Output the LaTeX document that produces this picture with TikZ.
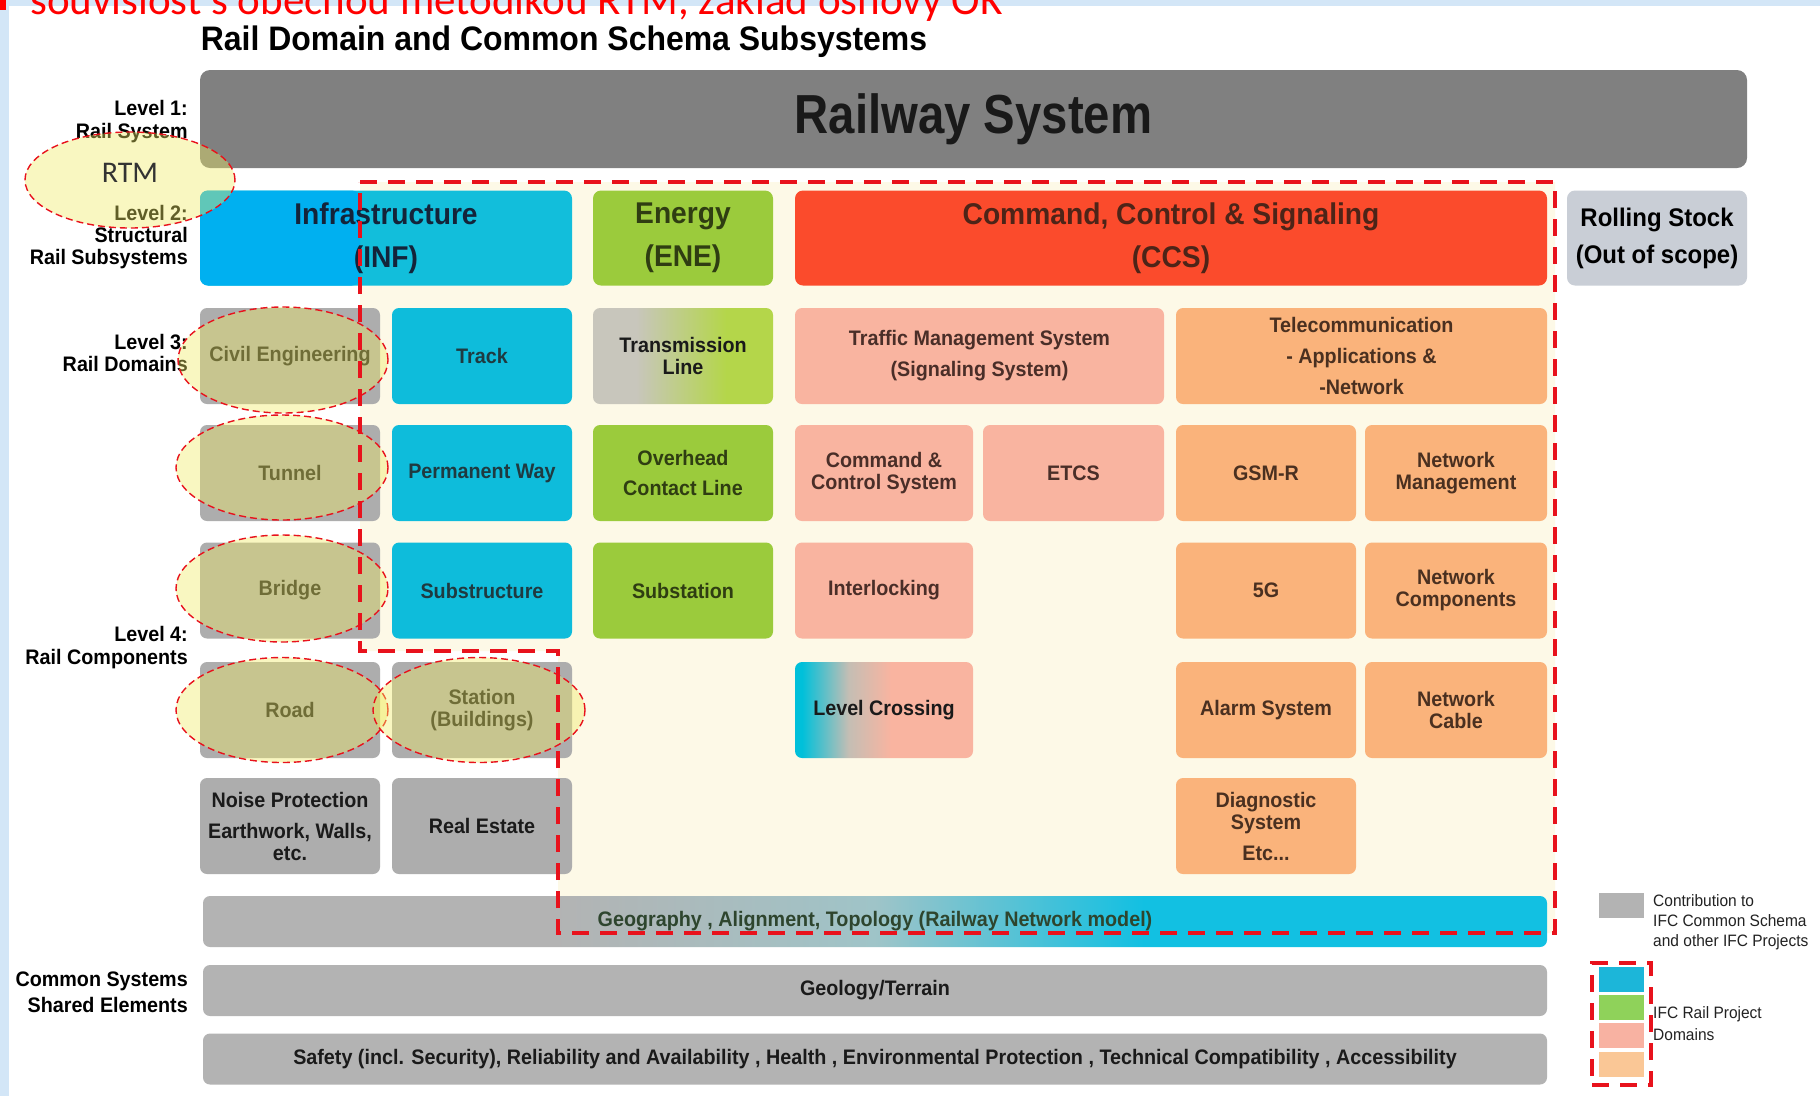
\documentclass[tikz,border=0pt]{standalone}
\usepackage{fontspec}
\setmainfont{Liberation Sans}
\newfontfamily\fcell[FakeStretch=0.94]{Liberation Sans}
\newfontfamily\fbig[FakeStretch=0.86]{Liberation Sans}
\newfontfamily\fcal{Carlito}
\usetikzlibrary{shapes.geometric}

\definecolor{stripblue}{HTML}{D3E6F7}
\definecolor{cream}{HTML}{FDF9E7}
\definecolor{railgray}{HTML}{808080}
\definecolor{infblue}{HTML}{00B0F0}
\definecolor{infcyan}{HTML}{12BEDB}
\definecolor{cyanin}{HTML}{0EBCDB}
\definecolor{green1}{HTML}{9BCB3C}
\definecolor{ccsred}{HTML}{FB4B2C}
\definecolor{salmon}{HTML}{F9B4A0}
\definecolor{orange1}{HTML}{FAB37B}
\definecolor{rsgray}{HTML}{C9CED6}
\definecolor{boxgray}{HTML}{ADADAD}
\definecolor{bargray}{HTML}{B3B3B3}
\definecolor{ellfill}{HTML}{F0EB64}
\definecolor{dashred}{HTML}{E8121C}
\definecolor{tgray}{HTML}{C8C6BC}
\definecolor{tgreen}{HTML}{B4D64A}
\definecolor{lccyan}{HTML}{00C0DA}
\definecolor{lcmid}{HTML}{C4BEB4}
\definecolor{geocyan}{HTML}{12C0E2}
\definecolor{geomid}{HTML}{9FC4C8}
\definecolor{legblue}{HTML}{1CB6D9}
\definecolor{leggreen}{HTML}{8FD25A}
\definecolor{legsal}{HTML}{F8B2A2}
\definecolor{legor}{HTML}{FAC796}
\definecolor{txtgray}{HTML}{1A1A1A}
\definecolor{txtcyan}{HTML}{1F3A40}
\definecolor{txtgreen}{HTML}{2F3D12}
\definecolor{txtsal}{HTML}{4A2E28}
\definecolor{txtor}{HTML}{4A3020}
\definecolor{txtinf}{HTML}{14243A}
\definecolor{txtccs}{HTML}{4D2418}
\definecolor{txtgeo}{HTML}{2E452E}
\definecolor{txtleg}{HTML}{222222}
\definecolor{txtrtm}{HTML}{333333}

\pgfdeclarehorizontalshading{transshade}{100bp}{color(0bp)=(tgray); color(37bp)=(tgray); color(62bp)=(tgreen); color(100bp)=(tgreen)}
\pgfdeclarehorizontalshading{lcshade}{100bp}{color(0bp)=(lccyan); color(27bp)=(lccyan); color(40bp)=(lcmid); color(52bp)=(salmon); color(100bp)=(salmon)}
\pgfdeclarehorizontalshading{geoshade}{100bp}{color(0bp)=(bargray); color(38bp)=(bargray); color(50bp)=(geomid); color(60bp)=(geocyan); color(100bp)=(geocyan)}

\newcommand{\cellfont}{\fcell\bfseries\fontsize{21}{22}\selectfont}
\newcommand{\lvfont}{\fcell\bfseries\fontsize{30}{43}\selectfont}
\newcommand{\rsfont}{\fcell\bfseries\fontsize{25.5}{37}\selectfont}
\newcommand{\railfont}{\fbig\bfseries\fontsize{55}{55}\selectfont}
\newcommand{\legfont}{\fcell\fontsize{16.5}{20}\selectfont}
\newcommand{\notefont}{\fcal\fontsize{43}{43}\selectfont}

\tikzset{
  cell/.style={rectangle, rounded corners=7pt, inner sep=1pt, align=center,
    font=\cellfont, minimum height=96pt},
  wd/.style={minimum width=#1pt},
  grayc/.style={cell, fill=boxgray, text=txtgray},
  cyanc/.style={cell, fill=cyanin, text=txtcyan},
  greenc/.style={cell, fill=green1, text=txtgreen},
  salc/.style={cell, fill=salmon, text=txtsal},
  orc/.style={cell, fill=orange1, text=txtor},
  lvtwo/.style={rectangle, rounded corners=8pt, inner sep=0pt, align=center,
    font=\lvfont, minimum height=95pt},
  bar/.style={cell, minimum height=51pt, minimum width=1344pt, text=txtgray},
  lbl/.style={anchor=east, align=right, inner sep=0pt, font=\cellfont, text=black},
  ell/.style={ellipse, draw=dashred, line width=1.4pt, dash pattern=on 7pt off 4pt,
    fill=ellfill, fill opacity=0.4, text opacity=1, inner sep=0pt},
  regdash/.style={draw=dashred, line width=3.5pt, dash pattern=on 17pt off 11pt},
  legsw/.style={rectangle, inner sep=0pt, minimum width=45pt, minimum height=25pt},
  legtxt/.style={anchor=west, align=left, inner sep=0pt, font=\legfont, text=txtleg}
}

\begin{document}
\begin{tikzpicture}[x=1pt,y=-1pt]
\useasboundingbox (0,0) rectangle (1820,1096);
\clip (0,0) rectangle (1820,1096);
\fill[white] (0,0) rectangle (1820,1096);
\fill[stripblue] (0,0) rectangle (9,1096);
\fill[stripblue] (0,0) rectangle (1820,6);
\fill[red] (0,0) rectangle (6,10);

\node[font=\notefont, text=red, anchor=base west, inner sep=0pt] (note) at (30,14)
  {souvislost s obecnou metodikou RTM, základ osnovy OK};
\node[anchor=base, inner sep=0pt, font=\fcell\bfseries\fontsize{34}{34}\selectfont, text=black]
  (title) at (564,50) {Rail Domain and Common Schema Subsystems};

% cream region of the IFC Rail project
\fill[cream] (360,182) -- (1555,182) -- (1555,933) -- (558,933) -- (558,651) -- (360,651) -- cycle;

% Level 1
\node[rectangle, rounded corners=10pt, fill=railgray, minimum width=1547pt, minimum height=98pt,
  inner sep=0pt, font=\railfont, text=black!90] (rail) at (973.5,119) {Railway System};

% Level 2
\coordinate (cutL) at (360,0);
\node[lvtwo, fill=infcyan, text=txtinf, minimum width=372pt,
  path picture={\fill[infblue] (path picture bounding box.north west) rectangle (cutL |- path picture bounding box.south);}]
  (inf) at (386,238) {Infrastructure\\(INF)};
\node[lvtwo, fill=green1, text=txtgreen, minimum width=180pt] (ene) at (683,238) {Energy\\(ENE)};
\node[lvtwo, fill=ccsred, text=txtccs, minimum width=752pt] (ccs) at (1171,238)
  {Command, Control \& Signaling\\(CCS)};
\node[lvtwo, fill=rsgray, text=black, minimum width=180pt, font=\rsfont] (rs) at (1657,238)
  {Rolling Stock\\(Out of scope)};

% Row 1
\node[grayc, wd=180] (civil) at (290,356) {Civil Engineering};
\node[cyanc, wd=180] (track) at (482,356) {Track};
\node[cell, wd=180, shade, shading=transshade, text=txtgray] (trans) at (683,356) {Transmission\\Line};
\node[salc, wd=369] (tms) at (979.5,356) {Traffic Management System\\[9pt](Signaling System)};
\node[orc, wd=371] (tele) at (1361.5,356) {Telecommunication\\[9pt]- Applications \&\\[9pt]-Network};

% Row 2
\node[grayc, wd=180] (tunnel) at (290,473) {Tunnel};
\node[cyanc, wd=180] (pway) at (482,473) {Permanent Way};
\node[greenc, wd=180] (ocl) at (683,473) {Overhead\\[8pt]Contact Line};
\node[salc, wd=178] (ccsys) at (884,473) {Command \&\\Control System};
\node[salc, wd=181] (etcs) at (1073.5,473) {ETCS};
\node[orc, wd=180] (gsmr) at (1266,473) {GSM-R};
\node[orc, wd=182] (netm) at (1456,473) {Network\\Management};

% Row 3
\node[grayc, wd=180] (bridge) at (290,590.5) {Bridge};
\node[cyanc, wd=180] (subs) at (482,590.5) {Substructure};
\node[greenc, wd=180] (subst) at (683,590.5) {Substation};
\node[salc, wd=178] (interl) at (884,590.5) {Interlocking};
\node[orc, wd=180] (fiveg) at (1266,590.5) {5G};
\node[orc, wd=182] (netc) at (1456,590.5) {Network\\Components};

% Row 4
\node[grayc, wd=180] (road) at (290,710) {Road};
\node[grayc, wd=180] (station) at (482,710) {Station\\(Buildings)};
\node[cell, wd=178, shade, shading=lcshade, text=txtgray] (lc) at (884,710) {Level Crossing};
\node[orc, wd=180] (alarm) at (1266,710) {Alarm System};
\node[orc, wd=182] (cable) at (1456,710) {Network\\Cable};

% Row 5
\node[grayc, wd=180] (noise) at (290,826) {Noise Protection\\[9pt]Earthwork, Walls,\\etc.};
\node[grayc, wd=180] (estate) at (482,826) {Real Estate};
\node[orc, wd=180] (diag) at (1266,826) {Diagnostic\\System\\[9pt]Etc...};

% Common bars
\node[bar, shade, shading=geoshade, text=txtgeo] (geo) at (875,921.5)
  {Geography , Alignment, Topology (Railway Network model)};
\node[bar, fill=bargray] (geol) at (875,990.5) {Geology/Terrain};
\node[bar, fill=bargray] (safe) at (875,1059)
  {Safety (incl. Security), Reliability and Availability , Health , Environmental Protection , Technical Compatibility , Accessibility};

% Left level labels
\node[lbl] (lv1) at (188,122) {Level 1:\\[1pt]Rail System};
\node[lbl] (lv2) at (188,237) {Level 2:\\Structural\\Rail Subsystems};
\node[lbl] (lv3) at (188,352.5) {Level 3:\\Rail Domains};
\node[lbl] (lv4) at (188,647.5) {Level 4:\\[1pt]Rail Components};
\node[lbl] (lvc) at (188,992) {Common Systems\\[4pt]Shared Elements};

% RTM ellipses
\node[ell, minimum width=210pt, minimum height=96pt, font=\fcal\fontsize{30}{30}\selectfont, text=txtrtm]
  (rtm) at (130,180) {\raisebox{14pt}{RTM}};
\node[ell, minimum width=210pt, minimum height=106pt] (ecivil) at (283,360) {};
\node[ell, minimum width=212pt, minimum height=105pt] (etunnel) at (282,467.5) {};
\node[ell, minimum width=212pt, minimum height=107pt] (ebridge) at (282,588.5) {};
\node[ell, minimum width=212pt, minimum height=105pt] (eroad) at (282,710) {};
\node[ell, minimum width=212pt, minimum height=105pt] (estation) at (479,710) {};

% IFC Rail project boundary
\draw[regdash] (360,182) -- (1555,182) -- (1555,933) -- (558,933) -- (558,651) -- (360,651) -- cycle;

% Legend
\node[legsw, fill=bargray] (lgray) at (1621.5,905.5) {};
\node[legtxt] (lgtxt) at (1653,922) {Contribution to\\IFC Common Schema\\and other IFC Projects};
\node[legsw, fill=legblue] (lblue) at (1621.5,979.5) {};
\node[legsw, fill=leggreen] (lgreen) at (1621.5,1007.5) {};
\node[legsw, fill=legsal] (lsal) at (1621.5,1035.5) {};
\node[legsw, fill=legor] (lor) at (1621.5,1064.5) {};
\node[rectangle, regdash, inner sep=0pt, minimum width=59pt, minimum height=122pt] (lframe) at (1621.5,1024) {};
\node[legtxt] (lgtxt2) at (1653,1024) {IFC Rail Project\\[2pt]Domains};
\end{tikzpicture}
\end{document}
